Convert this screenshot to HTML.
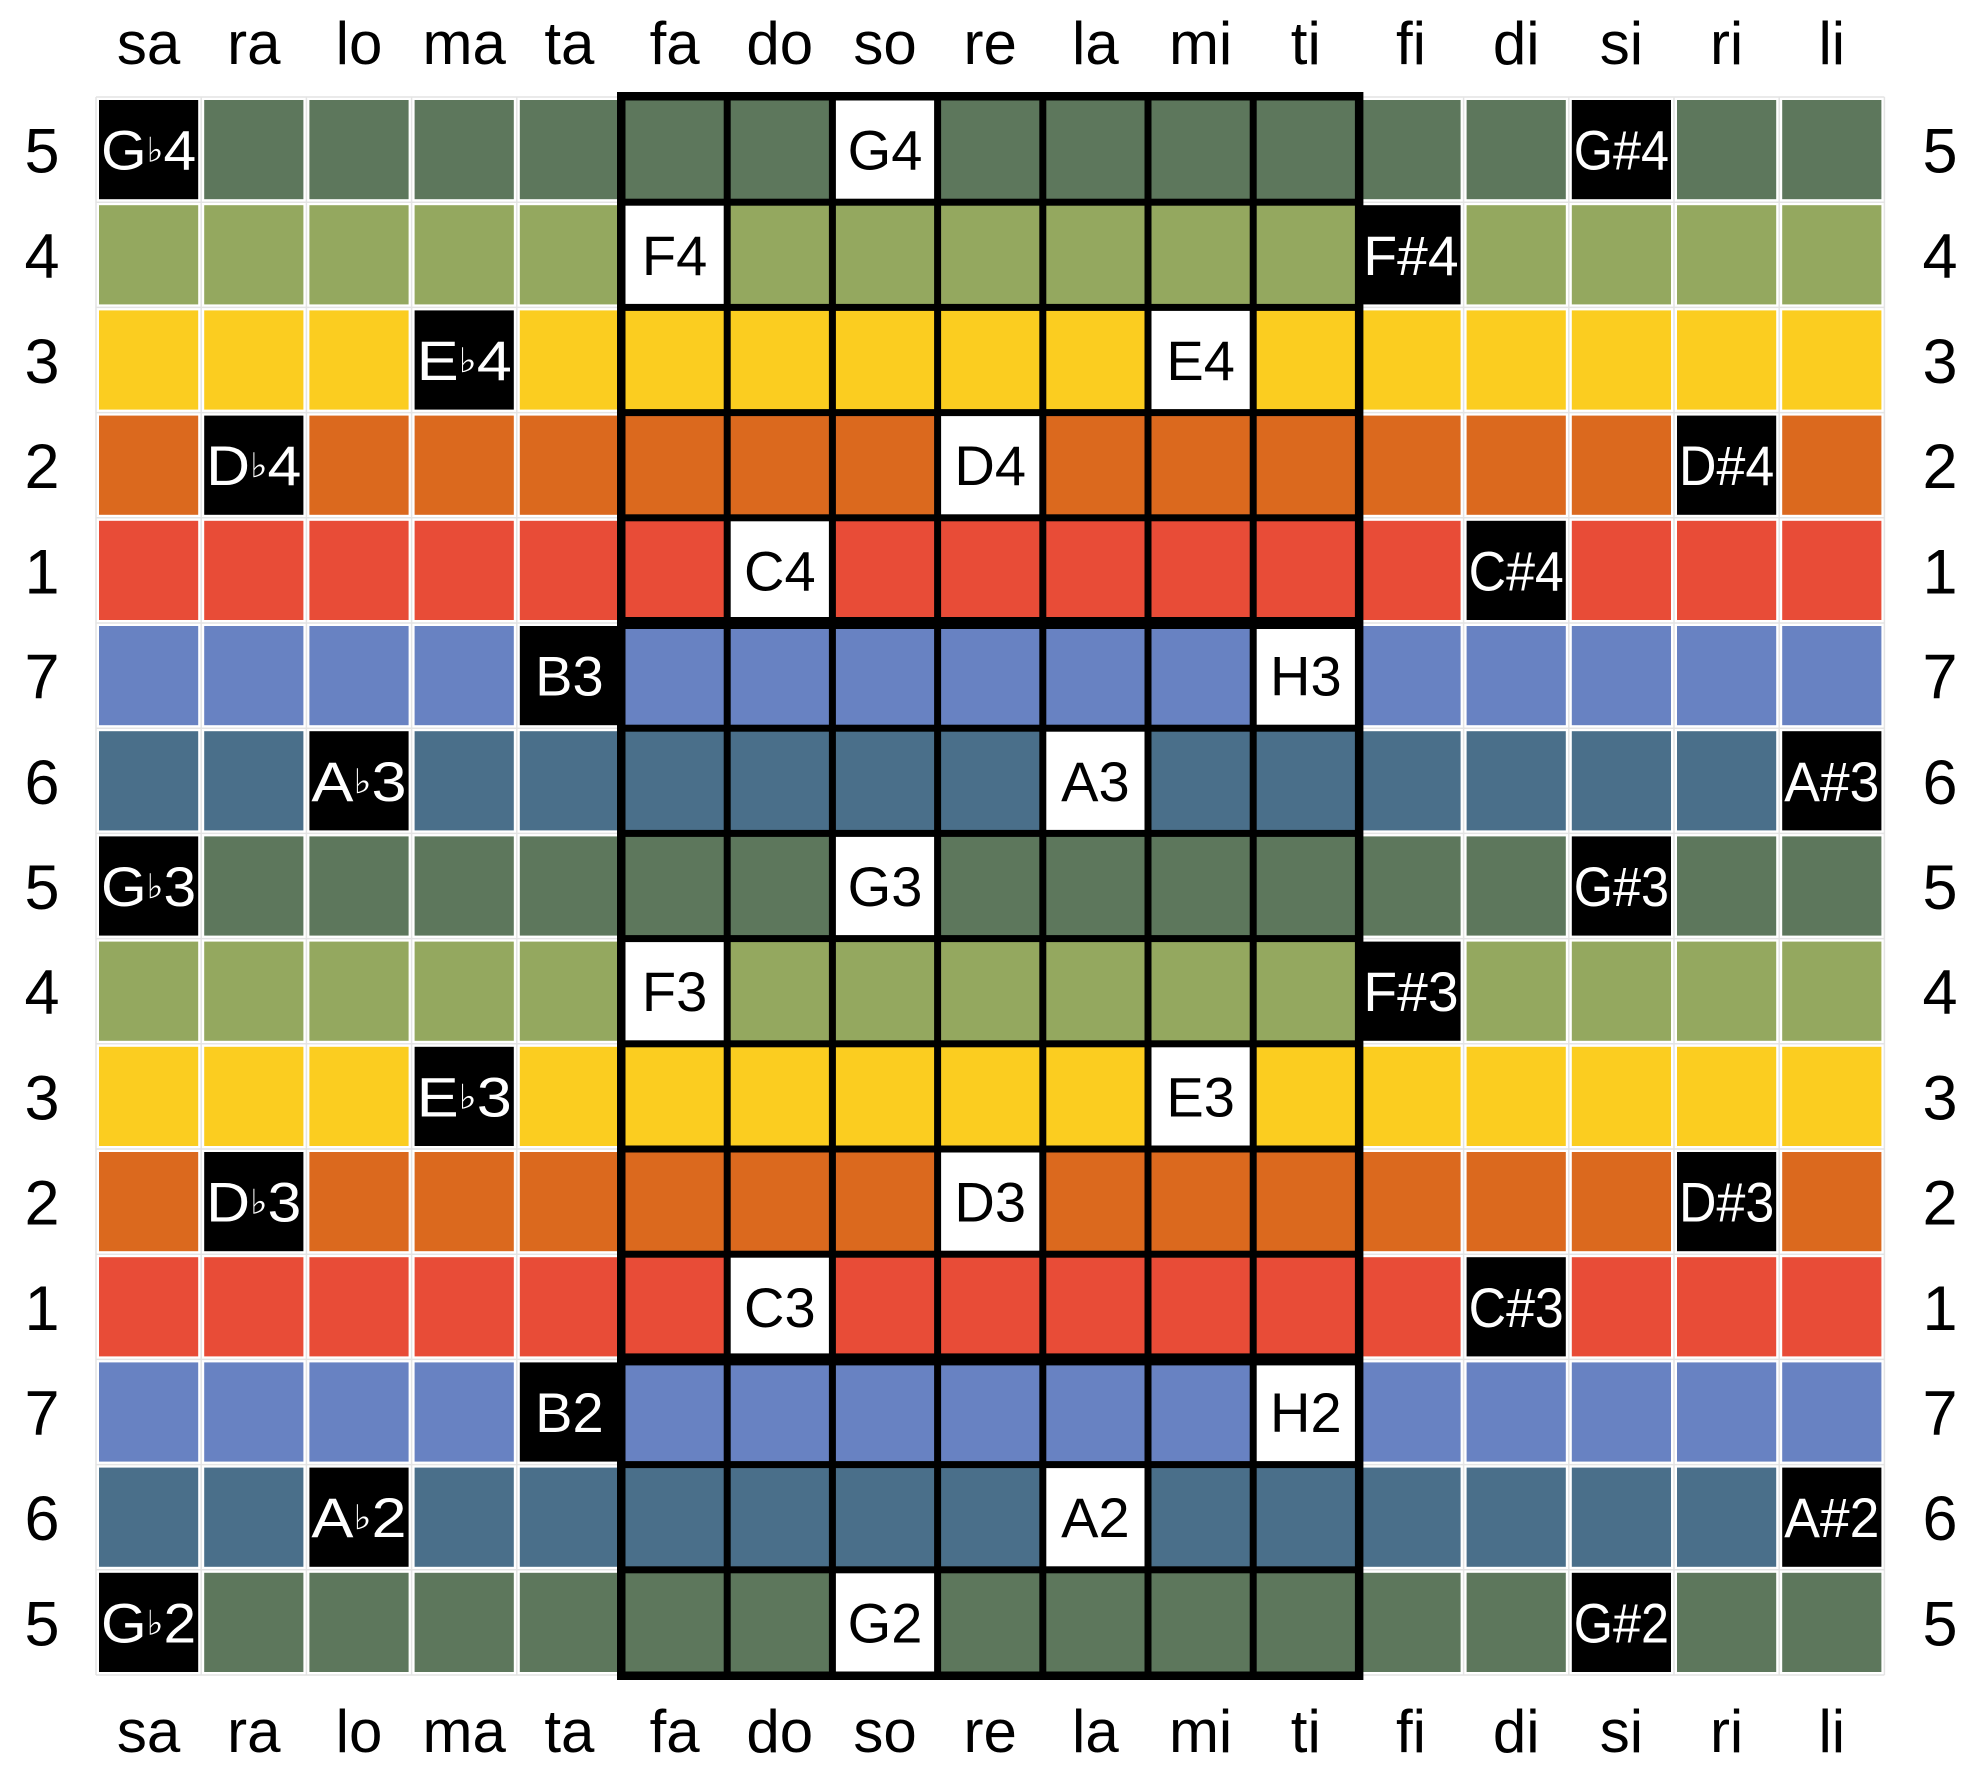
<!DOCTYPE html>
<html><head><meta charset="utf-8"><style>
body{margin:0;background:#fff;}
svg{display:block;font-family:"Liberation Sans","DejaVu Sans",sans-serif;}
</style></head><body>
<svg id="chart" width="1986" height="1779" viewBox="0 0 1986 1779" xmlns="http://www.w3.org/2000/svg"></svg>
<script>
const columns=["sa","ra","lo","ma","ta","fa","do","so","re","la","mi","ti","fi","di","si","ri","li"];
const rowDegrees=[5,4,3,2,1,7,6,5,4,3,2,1,7,6,5];
const rowOctaves=[4,4,4,4,4,3,3,3,3,3,3,3,2,2,2];
const degreeLetters={5:"G",4:"F",3:"E",2:"D",1:"C",7:"H",6:"A"};
const naturalCol={5:"so",4:"fa",3:"mi",2:"re",1:"do",7:"ti",6:"la"};
const flatCol={5:"sa",3:"ma",2:"ra",7:"ta",6:"lo"};
const flatLetter={5:"G♭",3:"E♭",2:"D♭",7:"B",6:"A♭"};
const sharpCol={5:"si",4:"fi",2:"ri",1:"di",6:"li"};
const colors={5:"#5d775c",4:"#94a85f",3:"#fbcd20",2:"#db691e",1:"#e84c37",7:"#6882c2",6:"#4a6f8a"};

const svg=document.getElementById('chart');
const NS="http://www.w3.org/2000/svg";
const X0=96,Y0=97,P=105.2;
const midStart=columns.indexOf("fa"),midEnd=columns.indexOf("ti");
function xc(i){return X0+i*P;}
function yr(j){return Y0+j*P;}
function mk(t,a,parent){const e=document.createElementNS(NS,t);for(const k in a)e.setAttribute(k,a[k]);(parent||svg).appendChild(e);return e;}

for(let i=0;i<=columns.length;i++){
  const l=mk('line',{x1:xc(i),x2:xc(i),y1:Y0,y2:yr(rowDegrees.length),stroke:'#e4e4e4','stroke-width':1.5});
  
  
}
for(let j=0;j<=rowDegrees.length;j++){
  const l=mk('line',{x1:X0,x2:xc(columns.length),y1:yr(j),y2:yr(j),stroke:'#e4e4e4','stroke-width':1.5});
  
  
}
const mb=mk('rect',{x:xc(midStart)-3,y:Y0-3,width:xc(midEnd+1)-xc(midStart)+6,height:yr(rowDegrees.length)-Y0+6,fill:'#000'});



rowDegrees.forEach((d,j)=>{
  const oct=rowOctaves[j];
  columns.forEach((c,i)=>{
    const mid=i>=midStart&&i<=midEnd;
    let fill=colors[d],label=null,txtFill='#000';
    if(naturalCol[d]===c){fill='#fff';label=degreeLetters[d]+oct;}
    else if(flatCol[d]===c){fill='#000';label=flatLetter[d]+oct;txtFill='#fff';}
    else if(sharpCol[d]===c){fill='#000';label=degreeLetters[d]+'#'+oct;txtFill='#fff';}
    const ins=mid?3.5:3;
    const r=mk('rect',{x:xc(i)+ins,y:yr(j)+ins,width:P-2*ins,height:P-2*ins,fill:fill});
    
    
    if(label){
      const t=mk('text',{x:xc(i)+P/2,y:yr(j)+P/2+20,'text-anchor':'middle','font-size':56,fill:txtFill});
      
      
      if(label.includes('♭')){
        const parts=label.split('♭');
        t.setAttribute('textLength',P-10);t.setAttribute('lengthAdjust','spacingAndGlyphs');
        mk('tspan',{},t).textContent=parts[0];
        const s=mk('tspan',{'font-size':34,dy:-8},t);s.textContent='♭';
        const s2=mk('tspan',{dy:8},t);s2.textContent=parts[1];
      } else if(label.includes('#')){
        t.setAttribute('textLength',P-10);t.setAttribute('lengthAdjust','spacingAndGlyphs');
        t.textContent=label;
      } else t.textContent=label;
    }
  });
  const l=mk('text',{x:42,y:yr(j)+P/2+23,'text-anchor':'middle','font-size':63,fill:'#000'});
  l.textContent=d;
  
  
  const r=mk('text',{x:1940,y:yr(j)+P/2+23,'text-anchor':'middle','font-size':63,fill:'#000'});
  r.textContent=d;
  
  
});
rowDegrees.forEach((d,j)=>{
  if(j>0&&rowDegrees[j-1]===1&&d===7){
    const b=mk('rect',{x:xc(midStart)-3,y:yr(j)-6,width:xc(midEnd+1)-xc(midStart)+6,height:12,fill:'#000'});
    
    
  }
});
const of=mk('rect',{x:xc(midStart)-2,y:Y0-2,width:xc(midEnd+1)-xc(midStart)+4,height:yr(rowDegrees.length)-Y0+4,fill:'none',stroke:'#000','stroke-width':6});


columns.forEach((c,i)=>{
  const t=mk('text',{x:xc(i)+P/2,y:64,'text-anchor':'middle','font-size':60,fill:'#000'});
  t.textContent=c;
  
  
  const b=mk('text',{x:xc(i)+P/2,y:1752,'text-anchor':'middle','font-size':60,fill:'#000'});
  b.textContent=c;
  
  
});
</script>
</body></html>
